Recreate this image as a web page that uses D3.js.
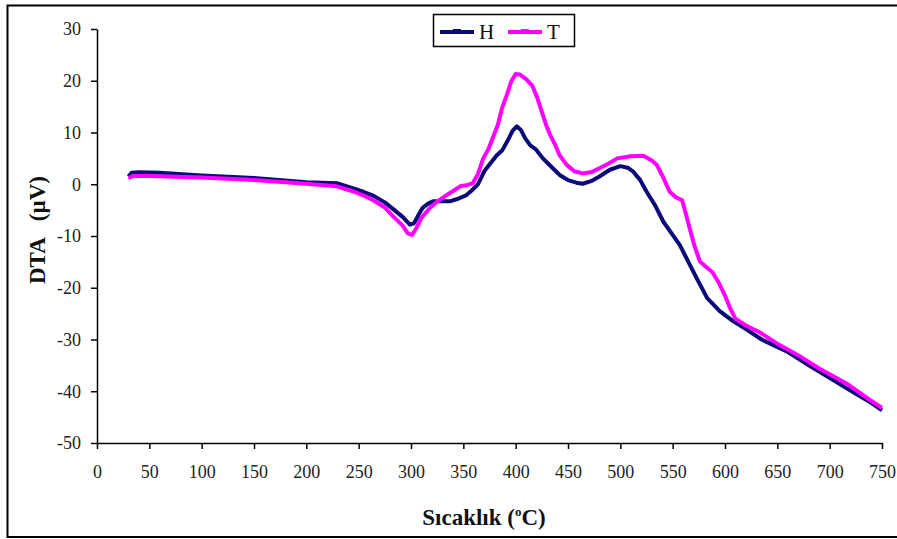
<!DOCTYPE html>
<html><head><meta charset="utf-8">
<script src="https://cdn.jsdelivr.net/npm/d3@7"></script>
<style>body{margin:0;background:#fff;} svg{display:block;} text{font-family:"Liberation Serif","DejaVu Serif",serif;}</style>
</head><body>
<script>
const xTicks = [0,50,100,150,200,250,300,350,400,450,500,550,600,650,700,750];
const yTicks = [-50,-40,-30,-20,-10,0,10,20,30];
const hTemp = [30,33,40,60,100,150,200,229,245,255,264,275,283,292,299,303,307,311,316,321,330,337,345,353,358,364,370,375,382,387,392,397,401,405,409,414,419,426,436,442,450,458,464,472,480,490,500,507,512,519,525,533,541,549,557,565,573,583,595,608,620,635,659,680,703,725,740,750];
const hVal  = [1.5,2.2,2.3,2.2,1.7,1.2,0.4,0.2,-0.8,-1.5,-2.2,-3.5,-4.8,-6.3,-7.8,-7.5,-6,-4.6,-3.8,-3.3,-3.3,-3.3,-2.8,-2.1,-1.2,0,2.5,3.8,5.6,6.5,8.3,10.3,11.2,10.5,8.9,7.5,6.8,5.0,3.0,1.8,0.8,0.3,0.1,0.6,1.5,2.8,3.5,3.2,2.5,0.8,-1.4,-4,-7.2,-9.5,-11.8,-15,-18.2,-22,-24.5,-26.5,-28,-30,-32.3,-35,-37.8,-40.5,-42.3,-43.7];
const tTemp = [30,35,50,100,150,200,229,245,255,264,275,283,292,297,301,305,310,318,326,334,341,347,353,359,364,369,374,378,383,387,392,396,400,404,410,416,421,425,429,433,438,442,449,456,464,472,480,489,497,510,522,530,535,541,547,553,559,563,567,571,576,582,588,594,600,605,610,620,633,650,672,690,716,735,750];
const tVal  = [1.2,1.6,1.6,1.3,0.8,0.1,-0.4,-1.4,-2.2,-3.1,-4.5,-6.2,-8,-9.5,-9.8,-8.5,-6.5,-4.6,-3.2,-2.1,-1.2,-0.4,-0.2,0.2,2,5,6.8,8.9,11.5,14.7,17.5,20,21.3,21.2,20.3,19,16.5,14,11.5,9.5,7.5,5.6,3.7,2.5,2.1,2.3,3.1,4.0,5,5.4,5.5,4.6,3.7,1.3,-1.4,-2.5,-3.1,-6,-9.1,-12,-14.9,-16,-17,-19,-21.5,-24,-26,-27.3,-28.6,-30.8,-33.3,-35.6,-38.5,-41.2,-43.2];
const seriesNames = ["H","T"];
const seriesColors = ["#0a0a78","#ff00ff"];

const W=897,H=539;
const svg=d3.select("body").append("svg").attr("width",W).attr("height",H);
svg.append("rect").attr("x",7.5).attr("y",5.5).attr("width",900).attr("height",531.5)
  .attr("fill","none").attr("stroke","#000").attr("stroke-width",2);

const x=d3.scaleLinear().domain([0,750]).range([97,882]);
const y=d3.scaleLinear().domain([-50,30]).range([443,29]);
const fam='"Liberation Serif","DejaVu Serif",serif';

const xa=svg.append("g").attr("transform","translate(0,443)")
  .call(d3.axisBottom(x).tickValues(xTicks).tickFormat(d=>String(d)).tickSize(6).tickPadding(16).tickSizeOuter(0));
const ya=svg.append("g").attr("transform","translate(97,0)")
  .call(d3.axisLeft(y).tickValues(yTicks).tickFormat(d=>String(d)).tickSize(6).tickPadding(10).tickSizeOuter(0));
[xa,ya].forEach(a=>{
  a.attr("font-family",null);
  a.selectAll("path,line").attr("stroke","#000").attr("stroke-width",1.5);
  a.selectAll("text").style("font-family",fam).attr("font-size",18).attr("fill","#222");
});

const line=d3.line().x(d=>x(d[0])).y(d=>y(d[1]));
const hData=hTemp.map((t,i)=>[t,hVal[i]]);
const tData=tTemp.map((t,i)=>[t,tVal[i]]);
svg.append("path").datum(hData).attr("d",line).attr("fill","none")
  .attr("stroke",seriesColors[0]).attr("stroke-width",4).attr("stroke-linejoin","round");
svg.append("path").datum(tData).attr("d",line).attr("fill","none")
  .attr("stroke",seriesColors[1]).attr("stroke-width",4).attr("stroke-linejoin","round");

// axis titles
const xt=svg.append("text").attr("x",484).attr("y",525).attr("text-anchor","middle")
  .style("font-family",fam).attr("font-size",23).attr("font-weight","bold").attr("fill","#111");
xt.append("tspan").text("Sıcaklık (");
xt.append("tspan").text("o").attr("font-size",13).attr("dy",-9);
xt.append("tspan").text("C)").attr("dy",9);

svg.append("text").attr("transform","translate(45,230) rotate(-90)").attr("text-anchor","middle")
  .style("font-family",fam).attr("font-size",23).attr("font-weight","bold").attr("fill","#111")
  .style("white-space","pre").text("DTA   (µV)");

// legend
const lg=svg.append("g");
lg.append("rect").attr("x",433.5).attr("y",14.5).attr("width",141).attr("height",32)
  .attr("fill","#fff").attr("stroke","#000").attr("stroke-width",1.5);
const lx=[440,508];
seriesNames.forEach((n,i)=>{
  lg.append("line").attr("x1",lx[i]).attr("x2",lx[i]+34).attr("y1",32).attr("y2",32)
    .attr("stroke",seriesColors[i]).attr("stroke-width",4);
  lg.append("rect").attr("x",lx[i]+13).attr("y",29).attr("width",8).attr("height",3)
    .attr("fill",seriesColors[i]);
  lg.append("text").attr("x",lx[i]+39).attr("y",39).style("font-family",fam)
    .attr("font-size",21).attr("fill","#111").text(n);
});
</script>
</body></html>
